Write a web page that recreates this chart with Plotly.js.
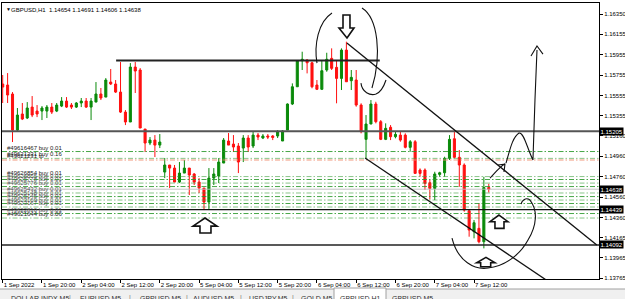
<!DOCTYPE html>
<html><head><meta charset="utf-8">
<script src="https://cdn.plot.ly/plotly-3.0.1.min.js"></script>
<style>html,body{margin:0;padding:0;background:#fff;overflow:hidden}#chart{width:625px;height:299px;}</style>
</head><body><div id="chart"></div>
<script>
// ---------- DATA ----------
const chartTitle = "GBPUSD,H1  1.14654 1.14691 1.14606 1.14638";
const openP = [1.15668,1.15658,1.15570,1.15217,1.15374,1.15335,1.15442,1.15403,1.15403,1.15403,
1.15442,1.15403,1.15452,1.15501,1.15462,1.15442,1.15482,1.15501,1.15442,1.15491,
1.15570,1.15540,1.15687,1.15668,1.15589,1.15393,1.15296,1.15834,1.15805,1.15227,
1.15090,1.15119,1.15070,1.14806,1.14875,1.14845,1.14708,1.14796,1.14845,1.14787,
1.14708,1.14649,1.14512,1.14747,1.14767,1.14894,1.15110,1.15080,1.15061,1.15041,
1.15139,1.15061,1.15168,1.15139,1.15159,1.15159,1.15159,1.15110,1.15217,1.15472,
1.15641,1.15896,1.15903,1.15876,1.15658,1.15616,1.15805,1.15919,1.15831,1.15723,
1.16000,1.15700,1.15707,1.15462,1.15126,1.15276,1.15472,1.15299,1.15126,1.15244,
1.15152,1.15168,1.15168,1.15048,1.15103,1.14826,1.14826,1.14702,1.14646,1.14783,
1.14799,1.14940,1.15132,1.14950,1.14875,1.14427,1.14222,1.14255,1.14124,1.14654];
const highP = [1.15756,1.15775,1.15589,1.15433,1.15482,1.15491,1.15550,1.15462,1.15452,1.15462,
1.15482,1.15482,1.15540,1.15540,1.15482,1.15491,1.15531,1.15531,1.15531,1.15687,
1.15629,1.15726,1.15815,1.15707,1.15883,1.15413,1.15873,1.15883,1.15824,1.15227,
1.15149,1.15168,1.15178,1.14943,1.14875,1.14875,1.14904,1.14924,1.14845,1.14796,
1.14747,1.14649,1.14845,1.14845,1.14943,1.15139,1.15188,1.15168,1.15090,1.15168,
1.15168,1.15201,1.15188,1.15178,1.15178,1.15168,1.15217,1.15217,1.15478,1.15674,
1.15903,1.15984,1.15910,1.15886,1.15707,1.15903,1.15974,1.16017,1.15903,1.16017,
1.16082,1.15805,1.15805,1.15479,1.15364,1.15511,1.15494,1.15315,1.15283,1.15266,
1.15201,1.15201,1.15185,1.15119,1.15119,1.14842,1.14842,1.14728,1.14809,1.14809,
1.14956,1.15168,1.15217,1.15022,1.14891,1.14434,1.14336,1.14500,1.14760,1.14691];
const lowP = [1.15482,1.15482,1.15100,1.15207,1.15315,1.15325,1.15344,1.15344,1.15315,1.15335,
1.15374,1.15393,1.15442,1.15433,1.15423,1.15433,1.15442,1.15433,1.15315,1.15491,
1.15511,1.15540,1.15658,1.15580,1.15384,1.15266,1.15296,1.15580,1.15237,1.15002,
1.15070,1.14953,1.15041,1.14747,1.14649,1.14708,1.14698,1.14796,1.14581,1.14679,
1.14600,1.14434,1.14434,1.14679,1.14698,1.14894,1.15070,1.15002,1.14796,1.14904,
1.15002,1.15041,1.15119,1.15129,1.15129,1.15119,1.15139,1.15110,1.15217,1.15462,
1.15641,1.15805,1.15772,1.15626,1.15609,1.15609,1.15788,1.15805,1.15479,1.15609,
1.15690,1.15609,1.15446,1.15185,1.14940,1.15276,1.15283,1.15119,1.15119,1.15119,
1.15136,1.15103,1.15038,1.15005,1.14793,1.14760,1.14630,1.14539,1.14532,1.14760,
1.14760,1.14924,1.14940,1.14662,1.14418,1.14173,1.14157,1.14108,1.14059,1.14606];
const closeP = [1.15638,1.15560,1.15217,1.15364,1.15325,1.15433,1.15364,1.15374,1.15433,1.15442,
1.15393,1.15462,1.15501,1.15442,1.15442,1.15482,1.15501,1.15442,1.15501,1.15570,
1.15531,1.15707,1.15668,1.15589,1.15393,1.15296,1.15834,1.15795,1.15237,1.15090,
1.15119,1.15070,1.15100,1.14875,1.14845,1.14708,1.14796,1.14845,1.14777,1.14708,
1.14649,1.14512,1.14747,1.14787,1.14904,1.15119,1.15070,1.15051,1.14904,1.15139,
1.15051,1.15168,1.15149,1.15159,1.15149,1.15145,1.15201,1.15207,1.15472,1.15641,
1.15896,1.15910,1.15876,1.15641,1.15616,1.15798,1.15910,1.15821,1.15723,1.16000,
1.15690,1.15733,1.15462,1.15201,1.15276,1.15472,1.15299,1.15126,1.15234,1.15152,
1.15175,1.15119,1.15048,1.15103,1.14793,1.14793,1.14695,1.14646,1.14787,1.14799,
1.14940,1.15126,1.14950,1.14875,1.14434,1.14238,1.14310,1.14124,1.14654,1.14638];

const timeTickIndex = [0,8,16,24,32,40,48,56,64,72,80,88,96];
const timeTickText = ["1 Sep 2022","1 Sep 20:00","2 Sep 04:00","2 Sep 12:00","2 Sep 20:00","5 Sep 04:00",
  "5 Sep 12:00","5 Sep 20:00","6 Sep 04:00","6 Sep 12:00","6 Sep 20:00","7 Sep 04:00","7 Sep 12:00"];
const priceTicks = [1.16350,1.16155,1.15955,1.15755,1.15555,1.15355,1.15160,1.14960,1.14760,1.14560,1.14360,1.14165,1.13965,1.13765];

const levelPrices = [1.15205, 1.14439, 1.14092];   // full-width horizontal lines
const bidPrice = 1.14638;
const resistanceLine = {from: 23.1, to: 76.8, price: 1.15898};
const upperChannel = [[70.1, 1.16069], [121.0, 1.14091]];
const lowerChannel = [[73.8, 1.14943], [112.5, 1.13691]];

const orderLabels = ["#49616467 buy 0.01","#49621231 buy 0.16","#49621231 tp","#49626854 buy 0.01",
 "#49626855 buy 0.01","#49625778 buy 0.01","#49625776 buy 0.01","#49625432 buy 0.01","#49625148 buy 0.01",
 "#49625145 buy 0.01","#49623169 buy 0.01","#49623167 buy 0.01","#49622810 buy 0.01","#49621644 buy 0.06"];
const orderPrices = [1.15007,1.14940,1.14924,1.14762,1.14733,1.14698,1.14664,1.14601,1.14566,1.14532,1.14498,1.14464,1.14400,1.14356];
const orderKinds = ["buy","buy","tp","buy","buy","buy","buy","buy","buy","buy","buy","buy","buy","buy"];

const tabNames = ["DOLLAR INDX,M5","EURUSD,M5","GBPUSD,M5","AUDUSD,M5","USDJPY,M5","GOLD,M5","GBPUSD,H1","GBPUSD,M5"];
const tabCenters = [40, 100, 160, 213, 268, 317, 360, 412];   // px
const activeTab = 6;

// hand-drawn marks (bar index, price)
const freehand = [
 "M64.01,1.15873 C63.40,1.16049 64.22,1.16275 67.07,1.16363",
 "M73.18,1.16412 C76.44,1.16314 77.25,1.15952 75.21,1.15629",
 "M72.97,1.15677 C73.18,1.15589 74.81,1.15550 76.03,1.15570 C77.05,1.15589 77.66,1.15648 78.07,1.15707",
 "M91.51,1.14160 C92.73,1.13925 96.19,1.13847 98.84,1.13866 C102.30,1.13886 105.36,1.13994 106.99,1.14140 C108.82,1.14287 109.02,1.14434 107.39,1.14532 C106.58,1.14561 105.76,1.14532 105.56,1.14493",
 "M99.25,1.14747 C100.3,1.14800 101.3,1.14860 102.30,1.14884 M100.88,1.14875 L102.30,1.14884 L102.10,1.14806",
 "M102.51,1.14894 C103.32,1.15022 103.73,1.15139 105.15,1.15188 C106.17,1.15198 106.78,1.15041 108.00,1.14924 L108.41,1.15511 L108.82,1.16000 M107.60,1.15942 L108.82,1.16040 L110.04,1.15961"
];
const arrows = [
 "M70.12,1.16118 L71.55,1.16216 L70.73,1.16216 L70.73,1.16343 L69.31,1.16343 L69.31,1.16216 L68.49,1.16216 Z",
 "M41.20,1.14356 L43.65,1.14277 L42.42,1.14277 L42.42,1.14209 L40.18,1.14209 L40.18,1.14277 L38.76,1.14277 Z",
 "M101.08,1.14385 L102.91,1.14320 L102.10,1.14320 L102.10,1.14255 L100.26,1.14255 L100.26,1.14320 L99.25,1.14320 Z",
 "M98.43,1.13971 L100.26,1.13918 L99.39,1.13918 L99.39,1.13879 L97.35,1.13879 L97.35,1.13918 L96.54,1.13918 Z"
];

// ---------- BUILD ----------
const FONT = "Liberation Sans, Arial, sans-serif";
const barIndex = openP.map((_, k) => k);

const trace = {
  type: 'candlestick', x: barIndex, open: openP, high: highP, low: lowP, close: closeP,
  increasing: {line: {color: '#0a8a0a', width: 1}, fillcolor: '#0a8a0a'},
  decreasing: {line: {color: '#ff1010', width: 1}, fillcolor: '#ff1010'},
  whiskerwidth: 0, hoverinfo: 'skip', showlegend: false
};

const shapes = [];
const annotations = [];
const dashDot = "5px,2px,1.5px,2px";

orderPrices.forEach((p, k) => {
  const isTp = orderKinds[k] === 'tp';
  shapes.push({type:'line', xref:'paper', x0:0, x1:1, yref:'y', y0:p, y1:p, layer:'above',
    line:{color: isTp ? 'rgba(240,140,110,0.9)' : (k % 2 ? 'rgba(60,160,60,0.6)' : 'rgba(40,150,40,0.85)'), width:1, dash:dashDot}});
  annotations.push({xref:'x', x:0.6, xanchor:'left', yref:'y', y:p, yanchor:'bottom', showarrow:false,
    text: orderLabels[k], font:{family:FONT, size:6, color: k >= 4 && k <= 12 ? '#555' : '#222'}, borderpad:0});
});

shapes.push({type:'line', xref:'paper', x0:0, x1:1, yref:'y', y0:bidPrice, y1:bidPrice, layer:'above',
  line:{color:'rgba(190,190,190,0.9)', width:1}});
shapes.push({type:'line', xref:'paper', x0:0, x1:1, yref:'y', y0:levelPrices[0], y1:levelPrices[0], layer:'above',
  line:{color:'#555', width:2}});
shapes.push({type:'line', xref:'paper', x0:0, x1:1, yref:'y', y0:levelPrices[1], y1:levelPrices[1], layer:'above',
  line:{color:'#111', width:1.3}});
shapes.push({type:'line', xref:'paper', x0:0, x1:1, yref:'y', y0:levelPrices[2], y1:levelPrices[2], layer:'above',
  line:{color:'#222', width:1.5}});
shapes.push({type:'line', xref:'x', x0:resistanceLine.from, x1:resistanceLine.to, yref:'y',
  y0:resistanceLine.price, y1:resistanceLine.price, layer:'above', line:{color:'#222', width:2}});
[upperChannel, lowerChannel].forEach(c => shapes.push({type:'line', xref:'x', yref:'y',
  x0:c[0][0], y0:c[0][1], x1:c[1][0], y1:c[1][1], layer:'above', line:{color:'#111', width:1.3}}));
freehand.forEach(d => shapes.push({type:'path', xref:'x', yref:'y', path:d, layer:'above',
  line:{color:'#111', width:1.1}}));
arrows.forEach(d => shapes.push({type:'path', xref:'x', yref:'y', path:d, layer:'above',
  fillcolor:'#fff', line:{color:'#111', width:1.6}}));

// price boxes on the axis
levelPrices.concat([bidPrice]).forEach(p => annotations.push({xref:'paper', x:1, xanchor:'left', yref:'y', y:p,
  yanchor:'middle', showarrow:false, text:p.toFixed(5), bgcolor:'#000', borderpad:0.5,
  font:{family:FONT, size:6, color:'#fff'}}));

// small triangle before title
annotations.push({xref:'paper', yref:'paper', x:0.004, y:0.977, xanchor:'left', yanchor:'middle',
  showarrow:false, text:'▼', font:{family:FONT, size:5, color:'#000'}});

// tab bar
const px = v => (v - 2) / 597;
const py = v => (279 - v) / 276;
shapes.push({type:'rect', xref:'paper', yref:'paper', x0:px(0), x1:px(625), y0:py(289), y1:py(300),
  fillcolor:'#f0f0f0', line:{width:0}, layer:'below'});
shapes.push({type:'line', xref:'paper', yref:'paper', x0:px(0), x1:px(625), y0:py(289), y1:py(289),
  line:{color:'#a0a0a0', width:1}});
tabNames.forEach((t, k) => {
  const active = k === activeTab;
  if (active) shapes.push({type:'rect', xref:'paper', yref:'paper', x0:px(tabCenters[k]-26), x1:px(tabCenters[k]+26),
    y0:py(288), y1:py(300), fillcolor:'#fff', line:{color:'#a0a0a0', width:1}});
  annotations.push({xref:'paper', yref:'paper', x:px(tabCenters[k]), y:py(293), xanchor:'center', yanchor:'top',
    showarrow:false, text:t, font:{family:FONT, size:7, color:'#333'}});
  if (k < tabNames.length - 1 && !active && k + 1 !== activeTab)
    annotations.push({xref:'paper', yref:'paper', x:px((tabCenters[k]+tabCenters[k+1])/2), y:py(292),
      xanchor:'center', yanchor:'top', showarrow:false, text:'|', font:{family:FONT, size:7, color:'#777'}});
});

const layout = {
  width: 625, height: 299,
  margin: {l: 2, r: 26, t: 3, b: 20, pad: 0},
  paper_bgcolor: '#fff', plot_bgcolor: '#fff',
  showlegend: false, hovermode: false, dragmode: false,
  boxgap: 0.4,
  title: {text: chartTitle, x: 11/625, xanchor: 'left', y: 1 - 9.5/299, yanchor: 'middle',
          font: {family: FONT, size: 6, color: '#000'}},
  xaxis: {type: 'linear', range: [-0.14, 121.45], rangeslider: {visible: false},
    showgrid: false, zeroline: false, showline: true, mirror: true, linecolor: '#000', linewidth: 1,
    ticks: 'outside', ticklen: 3, tickcolor: '#000', tickwidth: 1, tickangle: 0,
    tickvals: timeTickIndex, ticktext: timeTickText, ticklabelposition: 'outside right',
    tickfont: {family: FONT, size: 6, color: '#000'}, fixedrange: true},
  yaxis: {range: [1.13759, 1.16461], side: 'right', showgrid: false, zeroline: false,
    showline: true, mirror: true, linecolor: '#000', linewidth: 1,
    ticks: 'outside', ticklen: 3, tickcolor: '#000',
    tickvals: priceTicks, ticktext: priceTicks.map(v => v.toFixed(5)),
    tickfont: {family: FONT, size: 6, color: '#000'}, fixedrange: true},
  shapes: shapes, annotations: annotations
};

Plotly.newPlot('chart', [trace], layout, {staticPlot: true, displayModeBar: false});
</script></body></html>
